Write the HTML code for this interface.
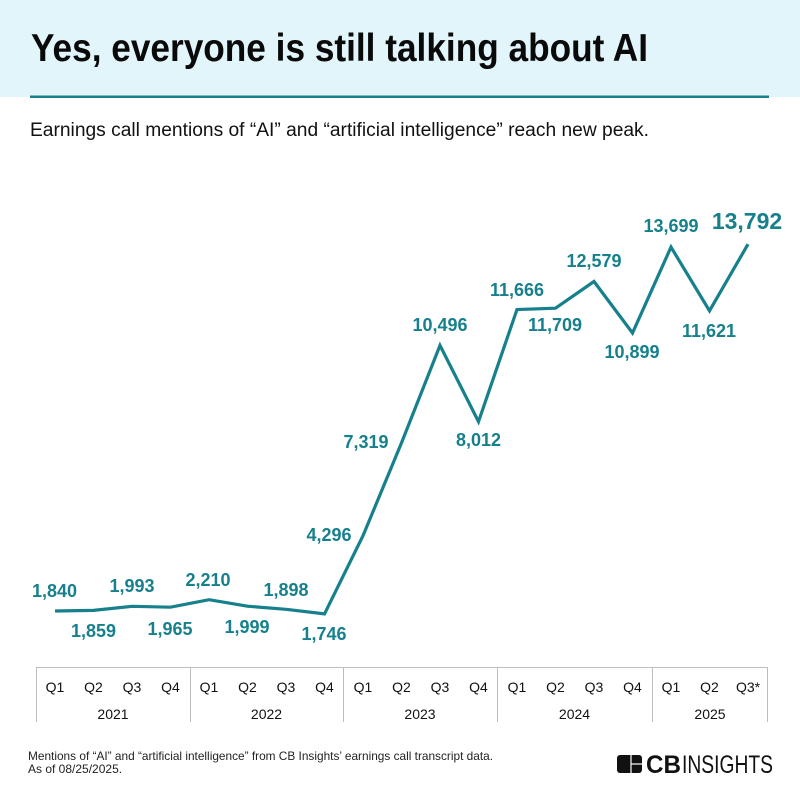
<!DOCTYPE html>
<html>
<head>
<meta charset="utf-8">
<style>
  html, body { margin: 0; padding: 0; background: #ffffff; }
  svg { display: block; }
</style>
</head>
<body>
<svg width="800" height="800" viewBox="0 0 800 800" xmlns="http://www.w3.org/2000/svg">
  <!-- Header -->
  <rect x="0" y="0" width="800" height="97" fill="#e1f5fb"/>
  <rect x="30" y="95.5" width="739" height="2.5" fill="#1d7f8c"/>
  <text x="31" y="61" font-family="'Liberation Sans', sans-serif" font-weight="bold" font-size="39" fill="#0a0a0a" textLength="617" lengthAdjust="spacingAndGlyphs">Yes, everyone is still talking about AI</text>
  <text x="30" y="136" font-family="'Liberation Sans', sans-serif" font-size="19" fill="#111" textLength="619" lengthAdjust="spacingAndGlyphs">Earnings call mentions of “AI” and “artificial intelligence” reach new peak.</text>

  <!-- Axis box -->
  <g stroke="#bdbdbd" stroke-width="1" fill="none">
    <line x1="36" y1="667.5" x2="768" y2="667.5"/>
    <line x1="36.5" y1="667" x2="36.5" y2="722"/>
    <line x1="190.5" y1="667" x2="190.5" y2="722"/>
    <line x1="343.5" y1="667" x2="343.5" y2="722"/>
    <line x1="497.5" y1="667" x2="497.5" y2="722"/>
    <line x1="652.5" y1="667" x2="652.5" y2="722"/>
    <line x1="767.5" y1="667" x2="767.5" y2="722"/>
  </g>

  <!-- Quarter labels -->
  <g font-family="'Liberation Sans', sans-serif" font-size="14" fill="#111" text-anchor="middle">
    <text x="55" y="692">Q1</text>
    <text x="93.5" y="692">Q2</text>
    <text x="132" y="692">Q3</text>
    <text x="170.5" y="692">Q4</text>
    <text x="209" y="692">Q1</text>
    <text x="247.5" y="692">Q2</text>
    <text x="286" y="692">Q3</text>
    <text x="324.5" y="692">Q4</text>
    <text x="363" y="692">Q1</text>
    <text x="401.5" y="692">Q2</text>
    <text x="440" y="692">Q3</text>
    <text x="478.5" y="692">Q4</text>
    <text x="517" y="692">Q1</text>
    <text x="555.5" y="692">Q2</text>
    <text x="594" y="692">Q3</text>
    <text x="632.5" y="692">Q4</text>
    <text x="671" y="692">Q1</text>
    <text x="709.5" y="692">Q2</text>
    <text x="748" y="692">Q3*</text>
  </g>
  <g font-family="'Liberation Sans', sans-serif" font-size="14" fill="#111" text-anchor="middle">
    <text x="113" y="719">2021</text>
    <text x="266.5" y="719">2022</text>
    <text x="420" y="719">2023</text>
    <text x="574.5" y="719">2024</text>
    <text x="710" y="719">2025</text>
  </g>

  <!-- Series line -->
  <polyline fill="none" stroke="#16808c" stroke-width="3.2" stroke-linejoin="miter" stroke-linecap="butt"
    points="55,611 93.5,610.4 132,606.3 170.5,607.2 209,599.7 247.5,606.2 286,609.3 324.5,613.9 363,535.7 401.5,442.9 440,345.4 478.5,421.6 517,309.5 555.5,308.2 594,281.5 632.5,333 671,247.1 709.5,310.8 748,244.2"/>

  <!-- Data labels -->
  <g font-family="'Liberation Sans', sans-serif" font-weight="bold" font-size="18" fill="#16808c" text-anchor="middle">
    <text x="54.5" y="597">1,840</text>
    <text x="93.5" y="637">1,859</text>
    <text x="132" y="592">1,993</text>
    <text x="170" y="635">1,965</text>
    <text x="208" y="586">2,210</text>
    <text x="247" y="633">1,999</text>
    <text x="286" y="596">1,898</text>
    <text x="324" y="640">1,746</text>
    <text x="329" y="541">4,296</text>
    <text x="366" y="448">7,319</text>
    <text x="440" y="331">10,496</text>
    <text x="478.5" y="446">8,012</text>
    <text x="517" y="296">11,666</text>
    <text x="555" y="331">11,709</text>
    <text x="594" y="267">12,579</text>
    <text x="632" y="358">10,899</text>
    <text x="671" y="232">13,699</text>
    <text x="709" y="337">11,621</text>
    <text x="747" y="229" font-size="23">13,792</text>
  </g>

  <!-- Footer -->
  <g font-family="'Liberation Sans', sans-serif" font-size="12" fill="#222">
    <text x="28" y="760" textLength="465" lengthAdjust="spacingAndGlyphs">Mentions of “AI” and “artificial intelligence” from CB Insights’ earnings call transcript data.</text>
    <text x="28" y="773">As of 08/25/2025.</text>
  </g>

  <!-- Logo -->
  <rect x="617" y="755" width="25" height="18" rx="3" fill="#111"/>
  <line x1="631" y1="755" x2="631" y2="773" stroke="#fff" stroke-width="1.2"/>
  <line x1="631" y1="764" x2="642" y2="764" stroke="#fff" stroke-width="1.2"/>
  <text x="646" y="773" font-family="'Liberation Sans', sans-serif" font-weight="bold" font-size="25" fill="#111" textLength="35" lengthAdjust="spacingAndGlyphs">CB</text>
  <text x="682" y="773" font-family="'Liberation Sans', sans-serif" font-size="25" fill="#111" textLength="91" lengthAdjust="spacingAndGlyphs">INSIGHTS</text>
</svg>
</body>
</html>
